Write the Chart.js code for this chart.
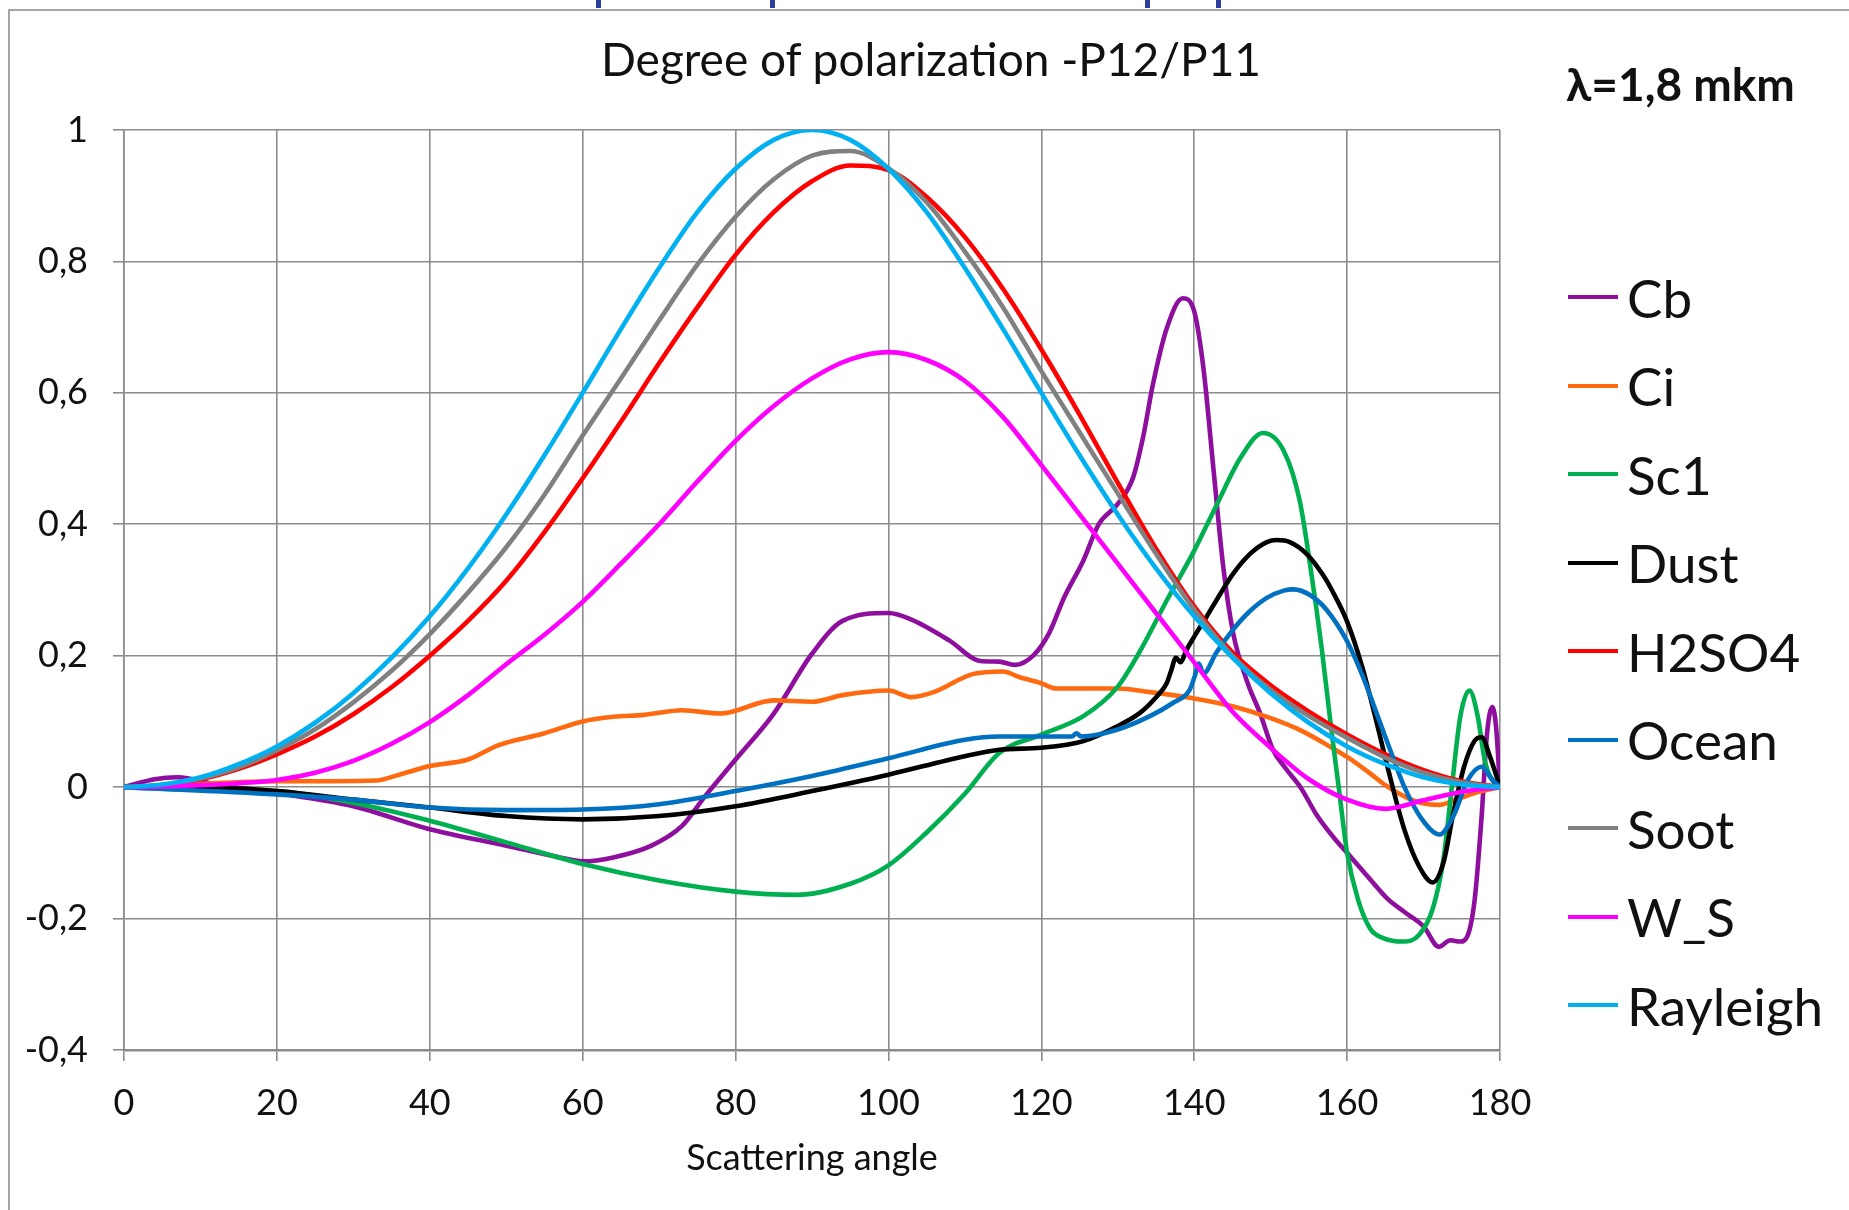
<!DOCTYPE html>
<html>
<head>
<meta charset="utf-8">
<script src="https://cdn.jsdelivr.net/npm/chart.js@4.4.1/dist/chart.umd.min.js"></script>
<style>
  html, body { margin: 0; padding: 0; background: #fff; }
  body { width: 1849px; height: 1210px; position: relative; overflow: hidden; font-family: Lato, "Open Sans", sans-serif; }
  #frame { position: absolute; left: 8px; top: 9px; width: 1900px; height: 1300px; border-left: 2px solid #a6a6a6; border-top: 2px solid #a6a6a6; }
  #wrap { position: absolute; left: 0; top: 0; width: 1849px; height: 1210px; }
  #title { position: absolute; left: 0; width: 1862px; top: 33px; text-align: center; font-size: 46px; line-height: 52px; color: #111; white-space: nowrap; }
  #lambda { position: absolute; left: 1566px; top: 57px; font-size: 46px; line-height: 54px; font-weight: bold; color: #111; white-space: nowrap; }
  .frag { position: absolute; top: 0; width: 5px; height: 8px; background: #2b3f9e; }
  .lg { position: absolute; left: 1568px; height: 64px; display: flex; align-items: center; font-size: 53px; color: #111; white-space: nowrap; }
  .lg span.ln { display: inline-block; width: 50px; height: 4px; margin-right: 9px; }
</style>
</head>
<body>
<div class="frag" style="left:596px"></div>
<div class="frag" style="left:770px"></div>
<div class="frag" style="left:1145px"></div>
<div class="frag" style="left:1216px"></div>
<div id="frame"></div>
<div id="wrap"><canvas id="c" width="1849" height="1210"></canvas></div>
<div id="title">Degree of polarization -P12/P11</div>
<div id="lambda">λ=1,8 mkm</div>
<div id="legend"></div>
<script>
// ---- data ----
const seriesNames = ['Cb', 'Ci', 'Sc1', 'Dust', 'H2SO4', 'Ocean', 'Soot', 'W_S', 'Rayleigh'];
const seriesColors = ['#8e0f9e', '#ff6a10', '#00b050', '#000000', '#ff0000', '#0070c0', '#808080', '#ff00ff', '#00b0f0'];

const xTitle = 'Scattering angle';
const xTicksStep = 20;
const yTicksStep = 0.2;

// smooth curves on a 5-degree grid
const angle5 = [0,5,10,15,20,25,30,35,40,45,50,55,60,65,70,75,80,85,90,95,100,105,110,115,120,125,130,135,140,145,150,155,160,165,170,175,180];
const rayleighVal = [0,0.004,0.015,0.035,0.062,0.098,0.143,0.197,0.26,0.333,0.415,0.505,0.6,0.697,0.79,0.875,0.941,0.985,1,0.985,0.941,0.875,0.79,0.697,0.6,0.505,0.415,0.333,0.26,0.197,0.143,0.098,0.062,0.035,0.015,0.004,0];
const sootVal = [0,0.003,0.013,0.03,0.056,0.088,0.129,0.177,0.233,0.296,0.365,0.445,0.535,0.622,0.71,0.795,0.868,0.925,0.961,0.968,0.942,0.89,0.815,0.73,0.633,0.54,0.447,0.355,0.27,0.2,0.148,0.108,0.075,0.045,0.022,0.007,0];
const h2so4Val = [0,0.003,0.012,0.028,0.05,0.077,0.111,0.152,0.2,0.253,0.314,0.388,0.47,0.556,0.645,0.73,0.81,0.875,0.922,0.946,0.939,0.898,0.837,0.758,0.666,0.567,0.463,0.363,0.275,0.205,0.155,0.115,0.08,0.05,0.026,0.009,0];
const wsVal = [0,0.001,0.003,0.006,0.011,0.022,0.04,0.066,0.099,0.14,0.187,0.232,0.282,0.34,0.4,0.465,0.527,0.58,0.622,0.651,0.662,0.65,0.618,0.563,0.49,0.415,0.34,0.265,0.19,0.115,0.06,0.012,-0.019,-0.033,-0.02,-0.007,0];

const ciAngle = [0,8,20,27,33,36,40,45,49,55,60,64,68,73,78,85,90,94,100,103,106,111,115,117,120,122,126,130,134,140,145,150,154,158,160,163,165,168,170,172,174,177,180];
const ciVal = [0,0.004,0.009,0.009,0.01,0.019,0.032,0.042,0.064,0.082,0.1,0.107,0.11,0.117,0.112,0.132,0.13,0.14,0.147,0.137,0.145,0.172,0.176,0.168,0.158,0.15,0.15,0.15,0.145,0.135,0.123,0.105,0.086,0.06,0.046,0.021,0.003,-0.017,-0.025,-0.027,-0.02,-0.008,0];

const cbAngle = [0,4,7,12,20,30,40,50,57,60,64,69,73,76,80,85,90,94,100,103,108,112,114.5,116.5,119,121,123,125.5,127.5,130,132,133.3,134.6,136.4,138.5,140,141.2,142.5,143.8,145.1,147,148.6,150.3,152,154,156,158.4,160,163,165.3,167.5,170,172,173.5,174.8,175.8,176.7,177.6,178.3,179,179.5,180];
const cbVal = [0,0.012,0.015,0.004,-0.009,-0.029,-0.064,-0.089,-0.107,-0.113,-0.107,-0.089,-0.059,-0.014,0.042,0.112,0.203,0.253,0.265,0.255,0.223,0.192,0.191,0.186,0.201,0.234,0.289,0.345,0.4,0.431,0.471,0.532,0.613,0.698,0.744,0.724,0.638,0.486,0.335,0.234,0.158,0.113,0.057,0.028,-0.002,-0.042,-0.079,-0.1,-0.14,-0.17,-0.19,-0.212,-0.243,-0.233,-0.235,-0.225,-0.17,-0.044,0.081,0.122,0.09,0];

const sc1Angle = [0,10,20,30,40,50,60,70,80,88,95,100,105,110,114.5,120,125.5,130,133,136.4,140,143,146,149,151.7,153.8,155.2,156.7,157.9,158.9,160,161.4,163,164.8,167.3,169.4,171.2,172.6,173.7,174.8,176,177.1,178,179.4,180];
const sc1Val = [0,-0.004,-0.006,-0.024,-0.051,-0.084,-0.117,-0.142,-0.159,-0.164,-0.147,-0.119,-0.069,-0.01,0.052,0.08,0.108,0.153,0.209,0.284,0.36,0.431,0.5,0.539,0.512,0.436,0.335,0.209,0.091,0,-0.1,-0.17,-0.215,-0.23,-0.235,-0.225,-0.185,-0.11,0,0.107,0.147,0.107,0.041,0.004,0];

const dustAngle = [0,12,20,30,40,50,60,70,80,90,100,110,114.5,120,125.5,129.8,132.9,135.1,136.4,137,137.6,138.2,139,140,141.6,143.4,145.1,147.3,149.5,150.8,152.5,154.7,156.9,158,160,162,164,165.3,167.5,169.4,171.2,172.6,173.9,175.3,176.7,177.6,178.7,180];
const dustVal = [0,-0.001,-0.006,-0.019,-0.031,-0.044,-0.049,-0.044,-0.029,-0.006,0.019,0.047,0.057,0.06,0.07,0.092,0.113,0.138,0.158,0.178,0.197,0.19,0.209,0.229,0.259,0.294,0.325,0.355,0.373,0.376,0.373,0.355,0.322,0.3,0.252,0.182,0.092,0.03,-0.065,-0.12,-0.145,-0.115,-0.039,0.031,0.071,0.076,0.046,0];

const oceanAngle = [0,20,30,40,50,60,70,80,90,100,110,114.5,120,124,124.6,125.2,129.8,134.2,137.2,139.4,140.1,140.6,141.2,142.9,145.1,147.3,149.5,151.7,153,155.2,157.3,160,162,164,166,167.5,169.8,172.1,173.9,175.8,177.6,179,180];
const oceanVal = [0,-0.011,-0.019,-0.031,-0.035,-0.034,-0.026,-0.006,0.017,0.044,0.072,0.077,0.077,0.077,0.082,0.077,0.087,0.108,0.128,0.148,0.17,0.188,0.173,0.205,0.24,0.268,0.288,0.299,0.301,0.292,0.27,0.222,0.17,0.108,0.045,0.0,-0.049,-0.072,-0.044,0.011,0.031,0.011,0];

// ---- build datasets ----
const xs = [cbAngle, ciAngle, sc1Angle, dustAngle, angle5, oceanAngle, angle5, angle5, angle5];
const ys = [cbVal, ciVal, sc1Val, dustVal, h2so4Val, oceanVal, sootVal, wsVal, rayleighVal];

const datasets = seriesNames.map((name, i) => ({
  label: name,
  data: xs[i].map((x, k) => ({ x: x, y: ys[i][k] })),
  borderColor: seriesColors[i],
  backgroundColor: seriesColors[i],
  borderWidth: 4.6,
  pointRadius: 0,
  fill: false,
  cubicInterpolationMode: 'monotone',
  order: seriesNames.length - 1 - i
}));

const gridColor = '#8c8c8c';
const tickFont = { family: 'Lato', size: 36 };

new Chart(document.getElementById('c'), {
  type: 'line',
  data: { datasets },
  options: {
    responsive: false,
    animation: false,
    layout: { padding: { left: 0, right: 349, top: 130, bottom: 0 } },
    plugins: { legend: { display: false }, title: { display: false }, tooltip: { enabled: false } },
    scales: {
      x: {
        type: 'linear', min: 0, max: 180,
        ticks: { stepSize: xTicksStep, font: tickFont, color: '#111', padding: 21, maxRotation: 0 },
        grid: { color: gridColor, lineWidth: 1.6, tickLength: 11, tickColor: gridColor },
        border: { color: gridColor, width: 2.6 },
        title: { display: true, text: xTitle, font: { family: 'Lato', size: 36 }, color: '#111', padding: { top: 0, bottom: 30 } },
        afterFit: (s) => { s.height = 160; }
      },
      y: {
        type: 'linear', min: -0.4, max: 1,
        ticks: {
          stepSize: yTicksStep, font: tickFont, color: '#111', padding: 25,
          callback: (v) => String(Math.round(v * 10) / 10).replace('.', ',')
        },
        grid: { color: gridColor, lineWidth: 1.6, tickLength: 11, tickColor: gridColor },
        border: { color: gridColor, width: 1.6 },
        afterFit: (s) => { s.width = 124; }
      }
    }
  }
});

// ---- legend (HTML) ----
const lg = document.getElementById('legend');
seriesNames.forEach((name, i) => {
  const row = document.createElement('div');
  row.className = 'lg';
  row.style.top = (298 + 88.5 * i - 33) + 'px';
  const ln = document.createElement('span');
  ln.className = 'ln';
  ln.style.background = seriesColors[i];
  row.appendChild(ln);
  row.appendChild(document.createTextNode(name));
  lg.appendChild(row);
});
</script>
</body>
</html>
